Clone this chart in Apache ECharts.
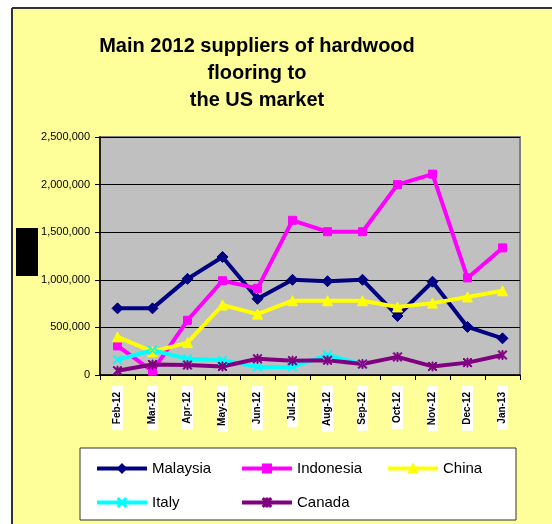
<!DOCTYPE html>
<html>
<head>
<meta charset="utf-8">
<script src="https://cdn.jsdelivr.net/npm/echarts@6/dist/echarts.min.js"></script>
<style>
  html, body { margin: 0; padding: 0; background: #fff; overflow: hidden; }
  #chart { width: 552px; height: 524px; }
</style>
</head>
<body>
<div id="chart"></div>
<script>
const months = ['Feb-12', 'Mar-12', 'Apr-12', 'May-12', 'Jun-12', 'Jul-12', 'Aug-12', 'Sep-12', 'Oct-12', 'Nov-12', 'Dec-12', 'Jan-13']
const malaysia = [700000, 700000, 1010000, 1240000, 800000, 1000000, 985000, 1000000, 620000, 980000, 505000, 385000]
const indonesia = [305000, 40000, 575000, 990000, 910000, 1625000, 1505000, 1505000, 2000000, 2110000, 1020000, 1335000]
const china = [400000, 245000, 340000, 735000, 640000, 780000, 780000, 780000, 715000, 755000, 820000, 885000]
const italy = [160000, 260000, 170000, 155000, 85000, 85000, 210000, 110000, null, null, null, null]
const canada = [45000, 110000, 105000, 90000, 170000, 150000, 155000, 115000, 190000, 90000, 130000, 210000]

const xMark = 'path://M0,1 L1,0 L5,4 L9,0 L10,1 L6,5 L10,9 L9,10 L5,6 L1,10 L0,9 L4,5 Z'
const starMark = 'path://M0,1 L1,0 L5,4 L9,0 L10,1 L6,5 L10,9 L9,10 L5,6 L1,10 L0,9 L4,5 Z M4.4,0 L4.4,10 L5.6,10 L5.6,0 Z'

function line (name, data, color, symbol, size) {
  return {
    name: name,
    type: 'line',
    data: data,
    symbol: symbol,
    symbolSize: size,
    showSymbol: true,
    connectNulls: false,
    lineStyle: { color: color, width: 4 },
    itemStyle: { color: color, borderColor: color, borderWidth: 1 },
    emphasis: { disabled: true },
    animation: false
  }
}

// one legend per entry, so the columns line up like the original
function legendItem (name, left, top) {
  return {
    data: [name],
    left: left,
    top: top,
    itemWidth: 50,
    itemHeight: 10,
    padding: 0,
    lineStyle: { width: 4 },
    textStyle: { fontFamily: 'Arial, Liberation Sans', fontSize: 15, color: '#000' }
  }
}

const chart = echarts.init(document.getElementById('chart'))
chart.setOption({
  backgroundColor: '#fff',
  animation: false,
  graphic: [
    { type: 'rect', z: -10, shape: { x: 12, y: 8, width: 540, height: 516 }, style: { fill: '#FFFF99' } },
    { type: 'line', z: -9, shape: { x1: 12, y1: 8, x2: 552, y2: 8 }, style: { stroke: '#333', lineWidth: 2 } },
    { type: 'line', z: -9, shape: { x1: 12, y1: 8, x2: 12, y2: 524 }, style: { stroke: '#333', lineWidth: 2 } },
    { type: 'rect', z: -5, shape: { x: 80, y: 448, width: 436, height: 72 }, style: { fill: '#fff', stroke: '#333', lineWidth: 1 } },
    { type: 'rect', z: 5, shape: { x: 16, y: 228, width: 22, height: 48 }, style: { fill: '#000' } }
  ],
  title: {
    text: 'Main 2012 suppliers of hardwood\nflooring to\nthe US market',
    left: 252,
    top: 28,
    textAlign: 'center',
    textStyle: { fontFamily: 'Arial, Liberation Sans', fontSize: 20, fontWeight: 'bold', lineHeight: 27, color: '#000' }
  },
  legend: [
    legendItem('Malaysia', 95, 461),
    legendItem('Indonesia', 240, 461),
    legendItem('China', 386, 461),
    legendItem('Italy', 95, 495),
    legendItem('Canada', 240, 495)
  ],
  grid: {
    left: 100, right: 32, top: 137, bottom: 149,
    show: true, backgroundColor: '#C0C0C0', borderColor: '#808080', borderWidth: 2
  },
  xAxis: {
    type: 'category',
    data: months,
    boundaryGap: true,
    axisLine: { lineStyle: { color: '#000', width: 1.5 } },
    axisTick: { show: true, length: 5, lineStyle: { color: '#000' } },
    axisLabel: {
      rotate: 90,
      margin: 11,
      interval: 0,
      fontFamily: 'Arial, Liberation Sans',
      fontSize: 10,
      fontWeight: 'bold',
      color: '#000',
      backgroundColor: '#fff',
      padding: [1, 6, 0, 6]
    }
  },
  yAxis: {
    type: 'value',
    min: 0,
    max: 2500000,
    interval: 500000,
    axisLine: { show: true, lineStyle: { color: '#000', width: 1.5 } },
    axisTick: { show: true, length: 5, lineStyle: { color: '#000' } },
    splitLine: { lineStyle: { color: '#000', width: 1 } },
    axisLabel: {
      margin: 10,
      fontFamily: 'Arial, Liberation Sans',
      fontSize: 11,
      color: '#000',
      formatter: function (v) { return v.toLocaleString('en-US') }
    }
  },
  series: [
    line('Malaysia', malaysia, '#000080', 'diamond', 11),
    line('Indonesia', indonesia, '#FF00FF', 'rect', 8),
    line('China', china, '#FFFF00', 'triangle', 10),
    line('Italy', italy, '#00FFFF', xMark, 9),
    line('Canada', canada, '#800080', starMark, 9)
  ]
})
</script>
</body>
</html>
